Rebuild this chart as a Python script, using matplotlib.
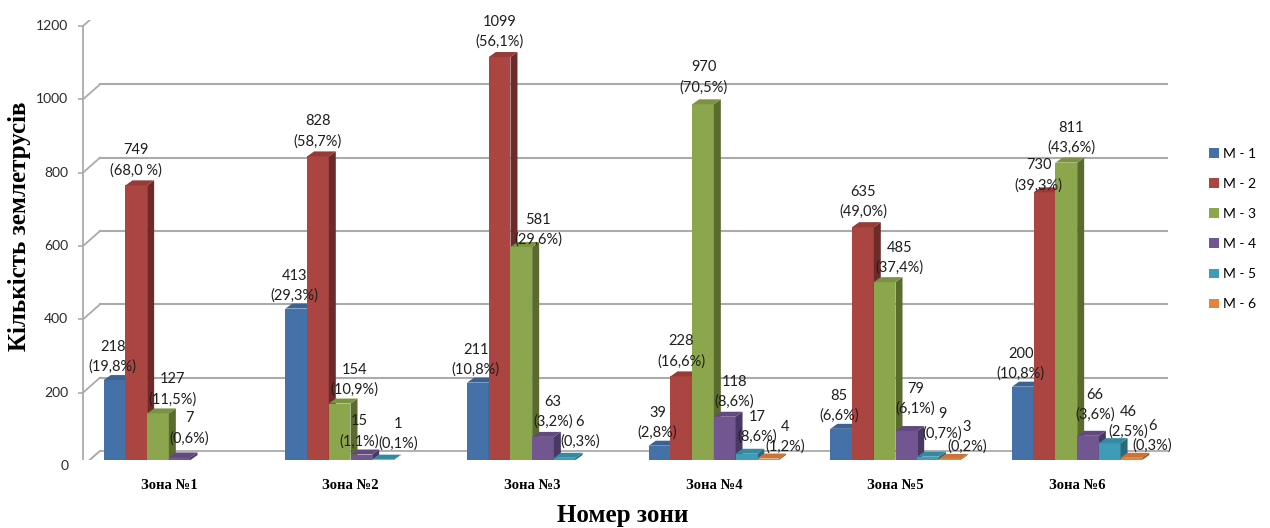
import matplotlib.pyplot as plt
from matplotlib.patches import Patch, Polygon
from matplotlib.transforms import ScaledTranslation

W, H, DPI = 1270, 528, 100

zones = ["Зона №1", "Зона №2", "Зона №3", "Зона №4", "Зона №5", "Зона №6"]
series_names = ["M - 1", "M - 2", "M - 3", "M - 4", "M - 5", "M - 6"]

m1 = [218, 413, 211, 39, 85, 200]
m2 = [749, 828, 1099, 228, 635, 730]
m3 = [127, 154, 581, 970, 485, 811]
m4 = [7, 15, 63, 118, 79, 66]
m5 = [0, 1, 6, 17, 9, 46]
m6 = [0, 0, 0, 4, 3, 6]

m1_pct = ["19,8%", "29,3%", "10,8%", "2,8%", "6,6%", "10,8%"]
m2_pct = ["68,0 %", "58,7%", "56,1%", "16,6%", "49,0%", "39,3%"]
m3_pct = ["11,5%", "10,9%", "29,6%", "70,5%", "37,4%", "43,6%"]
m4_pct = ["0,6%", "1,1%", "3,2%", "8,6%", "6,1%", "3,6%"]
m5_pct = ["", "0,1%", "0,3%", "8,6%", "0,7%", "2,5%"]
m6_pct = ["", "", "", "1,2%", "0,2%", "0,3%"]

y_ticks = [0, 200, 400, 600, 800, 1000, 1200]

counts = [m1, m2, m3, m4, m5, m6]
shares = [m1_pct, m2_pct, m3_pct, m4_pct, m5_pct, m6_pct]

front_colors = ["#4471A8", "#AA4542", "#8CA64D", "#715692", "#3F9CB6", "#E5823B"]
top_colors = ["#3B6294", "#973B38", "#7A9242", "#624A80", "#358AA1", "#CC7232"]
side_colors = ["#2C4A70", "#6C2B29", "#5A6B2E", "#4A3864", "#2A6A7C", "#9A5424"]

# label offsets in pixels (x shift, height of the lower line above the bar)
label_shift = [(-2, 14), (0, 16), (15, 15), (10, 16), (15, 17), (17, 13)]
label_fix = {
    (0, 3): (10, 20), (1, 3): (-2, 14), (2, 2): (17, 8), (3, 2): (1, 18),
    (5, 2): (5, 16), (5, 1): (-6, 8), (4, 3): (9, 23), (5, 3): (7, 22),
    (4, 4): (14, 24), (5, 4): (19, 12), (3, 4): (11, 18), (5, 5): (21, 13),
}

# bar plane of the plot area, in pixels
AX_LEFT, AX_RIGHT = 78, 1168
AX_TOP, AX_BOTTOM = 20, 460
YMAX = 1200

ux = len(zones) / (AX_RIGHT - AX_LEFT)
uy = YMAX / (AX_BOTTOM - AX_TOP)

FRONT = (5, -6)
BACK = (22, 9)
DEPTH = (7, 5)
BAR_W = 21.7 * ux
GRID = "#ababab"


def shift(x, y, px, py):
    return x + px * ux, y + py * uy


fig = plt.figure(figsize=(W / DPI, H / DPI), dpi=DPI)
ax = fig.add_axes([AX_LEFT / W, 1 - AX_BOTTOM / H,
                   (AX_RIGHT - AX_LEFT) / W, (AX_BOTTOM - AX_TOP) / H])
ax.set_xlim(-0.5, len(zones) - 0.5)
ax.set_ylim(0, YMAX)
for s in ax.spines.values():
    s.set_visible(False)

x0, x1 = -0.5, len(zones) - 0.5

# walls and floor
for v in y_ticks:
    fx, fy = shift(x0, v, *FRONT)
    bx, by = shift(x0, v, *BACK)
    ex, _ = shift(x1, v, *BACK)
    ax.plot([fx, bx], [fy, by], color=GRID, lw=1.3, zorder=1)
    if v > 0:
        ax.plot([bx, ex], [by, by], color=GRID, lw=1.5, zorder=1)
    tx, _ = shift(fx, fy, -5, 0)
    ax.plot([tx, fx], [fy, fy], color=GRID, lw=1.2, zorder=1)

fl = [shift(x0, 0, *FRONT), shift(x1, 0, *FRONT), shift(x1, 0, *BACK), shift(x0, 0, *BACK)]
ax.add_patch(Polygon(fl, closed=True, facecolor="white", edgecolor=GRID, lw=1.3, zorder=1.5))
top_l = shift(x0, YMAX, *FRONT)
ax.plot([top_l[0], fl[0][0]], [top_l[1], fl[0][1]], color=GRID, lw=1.3, zorder=1)
for k in range(len(zones) + 1):
    px, py = shift(x0 + k, 0, *FRONT)
    _, py2 = shift(px, py, 0, -6)
    ax.plot([px, px], [py, py2], color=GRID, lw=1.2, zorder=1)

# bars with side and top faces
for j, (vals, pcts) in enumerate(zip(counts, shares)):
    xs = [i + (j - 2.5) * BAR_W for i in range(len(zones))]
    z = 3 + j
    ax.bar(xs, vals, width=BAR_W, color=front_colors[j], linewidth=0, zorder=z)
    for i, (x, v, p) in enumerate(zip(xs, vals, pcts)):
        if v == 0:
            continue
        l, r = x - BAR_W / 2, x + BAR_W / 2
        side = [(r, 0), shift(r, 0, *DEPTH), shift(r, v, *DEPTH), (r, v)]
        top = [(l, v), (r, v), shift(r, v, *DEPTH), shift(l, v, *DEPTH)]
        ax.add_patch(Polygon(side, closed=True, facecolor=side_colors[j], lw=0, zorder=z))
        ax.add_patch(Polygon(top, closed=True, facecolor=top_colors[j], lw=0, zorder=z))
        dx, dy = label_fix.get((i, j), label_shift[j])
        ax.annotate(f"{v}\n({p})", xy=(x, v), xytext=(dx, dy - 8),
                    textcoords="offset pixels", ha="center", va="bottom",
                    fontsize=10.5, family="Lato", color="#1e1e1e",
                    linespacing=1.5, zorder=20)

ax.set_yticks(y_ticks)
ax.tick_params(axis="y", length=0, pad=7, labelsize=10, labelcolor="#2a2a2a")
for lab in ax.get_yticklabels():
    lab.set_family("Lato")
    lab.set_transform(lab.get_transform() + ScaledTranslation(0, -5 / DPI, fig.dpi_scale_trans))

ax.set_xticks(range(len(zones)))
ax.set_xticklabels(zones, family="Liberation Serif", fontweight="bold", fontsize=10.5)
ax.tick_params(axis="x", length=0, pad=14)

ax.set_xlabel("Номер зони", family="Liberation Serif", fontweight="bold", fontsize=18)
ax.xaxis.set_label_coords(0.5, -0.1)
ax.set_ylabel("Кількість землетрусів", family="Liberation Serif", fontweight="bold", fontsize=18)
ax.yaxis.set_label_coords(-0.043, 0.532)

handles = [Patch(facecolor=c, edgecolor="none") for c in front_colors]
fig.legend(handles, series_names, loc="upper left", bbox_to_anchor=(1209 / W, 1 - 148 / H),
           bbox_transform=fig.transFigure, frameon=False, borderpad=0, borderaxespad=0,
           handlelength=0.7, handleheight=0.7, handletextpad=0.3, labelspacing=1.3,
           prop={"family": "Lato", "size": 10})

fig.savefig("out.png", dpi=DPI)
